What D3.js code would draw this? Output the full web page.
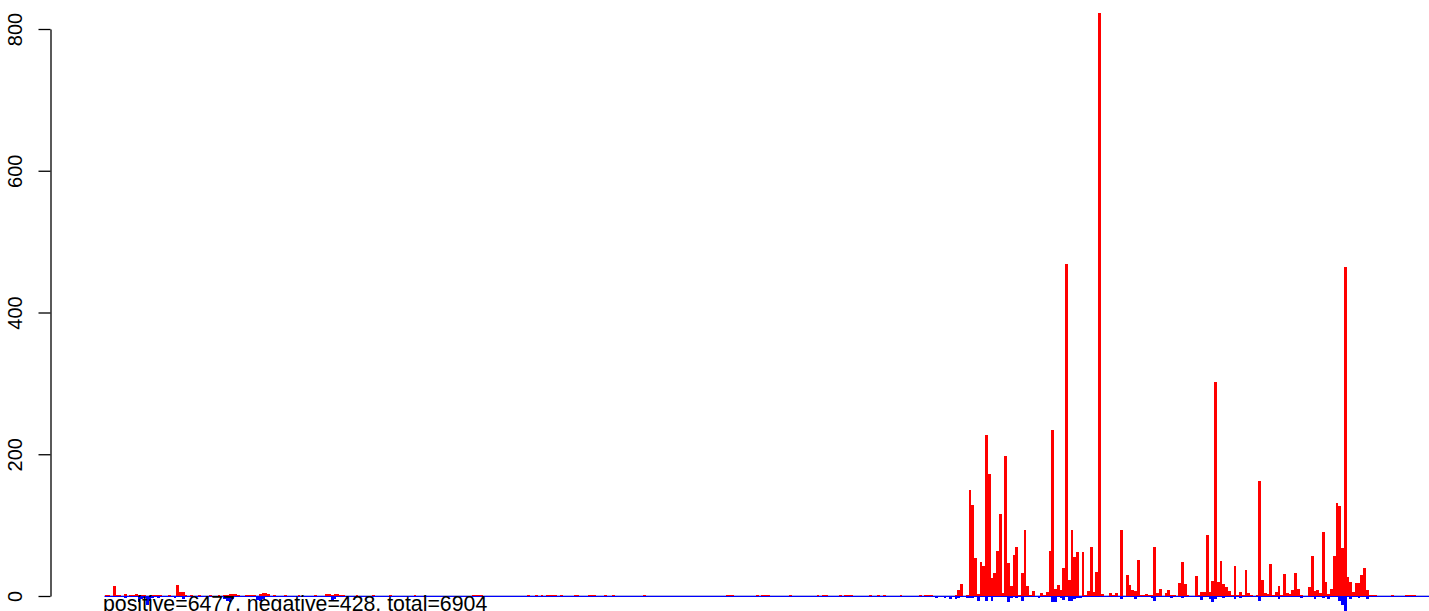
<!DOCTYPE html>
<meta charset="utf-8">
<script src="https://cdn.jsdelivr.net/npm/d3@7/dist/d3.min.js"></script>
<style>
    body { margin: 0; background: #fff; }
    svg text { font-family: "Liberation Sans", Arial, sans-serif; }
</style>
<svg id="bars" width="1429" height="611"></svg>
<script>
    // counts per bin (480 bins)
    var positive = [
        1,1,0,14,1,1,0,3,0,1,1,3,1,1,1,0,0,1,2,1,
        1,0,0,1,0,0,15,6,5,2,0,1,0,0,1,0,0,0,1,0,
        0,1,0,1,2,3,3,3,2,0,0,1,1,1,1,0,3,4,4,3,
        0,1,0,0,0,1,0,0,0,0,1,0,0,0,0,0,1,0,0,0,
        3,3,2,3,3,2,1,0,0,0,0,1,0,0,0,0,0,1,0,0,
        0,0,0,1,0,0,0,0,0,0,0,0,1,0,0,0,0,0,0,0,
        0,0,0,0,0,0,0,0,0,0,0,0,0,1,1,1,1,0,0,0,
        0,0,0,0,0,0,0,0,0,0,0,0,0,1,0,0,1,0,1,0,
        1,1,1,1,0,1,0,0,0,0,1,1,0,0,0,1,1,1,0,0,
        0,1,0,0,1,0,0,0,0,0,0,0,0,0,0,1,0,0,0,0,
        0,0,0,0,0,0,0,0,0,0,0,0,0,0,0,0,0,0,0,0,
        0,0,0,0,0,1,1,1,0,0,0,0,0,0,0,0,1,0,1,1,
        1,0,0,0,0,0,0,0,1,0,0,0,0,0,0,0,0,0,1,0,
        1,1,0,0,0,0,1,0,1,1,1,0,0,0,0,0,0,1,0,0,
        1,0,1,0,0,0,0,0,1,0,0,0,0,0,0,1,0,1,1,1,
        0,0,0,0,0,0,0,0,1,8,17,0,1,150,128,54,3,48,42,227,
        172,25,32,63,116,4,197,46,14,58,69,1,32,93,14,1,7,0,0,4,
        1,6,64,234,10,16,9,40,469,23,93,55,62,0,62,1,7,69,6,34,
        823,3,0,0,4,1,4,0,93,0,30,15,9,7,51,1,1,3,1,1,
        69,4,10,0,4,8,1,1,0,18,48,17,1,0,0,28,1,6,5,86,
        5,21,302,20,49,17,13,7,2,42,2,6,1,37,4,1,0,1,162,23,
        4,3,45,1,6,14,1,31,4,3,8,32,10,1,0,0,13,56,7,8,
        4,90,20,3,10,56,131,127,68,464,27,20,6,18,19,30,39,8,1,1,
        1,0,0,0,0,0,1,0,0,0,0,1,1,1,1,0,0,0,0,0
    ];

    var negative = [
        0,0,0,0,0,0,0,-2,0,0,0,0,-7,-3,-2,-11,-5,-2,0,-2,
        0,0,0,0,0,-2,0,0,-3,0,0,0,0,0,0,0,0,0,0,0,
        0,0,0,-3,-5,-7,-3,0,0,0,0,0,0,0,0,-4,-5,-3,0,0,
        0,0,0,0,0,0,0,0,0,0,0,0,0,0,0,0,0,0,0,0,
        0,0,-4,-3,0,0,0,0,0,0,0,0,0,0,0,0,0,0,0,0,
        0,0,0,0,0,0,0,0,0,0,0,0,0,0,0,0,0,0,0,0,
        0,0,0,0,0,0,0,0,0,0,0,0,0,0,0,0,0,0,0,0,
        0,0,0,0,0,0,0,0,0,0,0,0,0,0,0,0,0,0,0,0,
        0,0,0,0,0,0,0,0,0,0,0,0,0,0,0,0,0,0,0,0,
        0,0,0,0,0,0,0,0,0,0,0,0,0,0,0,0,0,0,0,0,
        0,0,0,0,0,0,0,0,0,0,0,0,0,0,0,0,0,0,0,0,
        0,0,0,0,0,0,0,0,0,0,0,0,0,0,0,0,0,0,0,0,
        0,0,0,0,0,0,0,0,0,0,0,0,0,0,0,0,0,0,0,0,
        0,0,0,0,0,0,0,0,0,0,0,0,0,0,0,0,0,0,0,0,
        0,0,0,0,0,0,0,0,0,0,0,0,0,0,0,0,0,0,0,0,
        0,-2,0,0,-2,0,-3,0,-3,-2,0,0,-2,-2,-2,0,-5,0,0,-5,
        0,-5,0,0,0,0,0,-7,-2,0,-2,0,-5,0,0,0,0,0,-2,0,
        0,0,0,-7,-7,0,-2,-4,0,-5,-5,-3,-2,-2,0,0,0,0,0,0,
        0,0,0,0,0,0,0,0,-3,0,0,0,0,-3,0,0,0,0,0,-2,
        -5,0,0,0,0,0,-2,0,0,0,-2,0,0,0,0,0,0,-4,0,0,
        -3,-7,-3,0,0,-2,0,0,0,-3,0,-2,0,0,0,0,0,0,-5,0,
        0,0,0,0,0,-3,0,0,0,0,0,0,0,-2,0,0,0,0,-3,0,
        0,-2,0,-3,0,0,0,-5,-11,-21,0,-3,0,0,-2,0,0,-3,0,0,
        0,0,0,0,0,0,0,0,0,0,0,0,0,0,0,0,0,0,0,0
    ];

    var yTicks = [0, 200, 400, 600, 800];
    var caption = "positive=6477, negative=428, total=6904";

    var svg = d3.select("#bars");

    var bins = d3.range(positive.length);
    var x = d3.scaleBand()
        .domain(bins)
        .range([104.5, 1429.5])
        .padding(0);
    var y = d3.scaleLinear()
        .domain([0, 800])
        .range([596, 29]);

    // faint zero row under the bars
    svg.append("rect")
        .attr("x", x.range()[0])
        .attr("y", y(0) - 1)
        .attr("width", x.range()[1] - x.range()[0])
        .attr("height", 1)
        .attr("fill", "#b0b4e4");

    svg.append("g")
        .attr("shape-rendering", "crispEdges")
        .selectAll("rect")
        .data(bins.filter(function(i) { return positive[i] > 0; }))
        .enter().append("rect")
        .attr("x", function(i) { return x(i); })
        .attr("width", x.bandwidth())
        .attr("y", function(i) { return y(positive[i]); })
        .attr("height", function(i) { return Math.max(1, y(0) - y(positive[i])); })
        .attr("fill", "#ff0000");

    svg.append("rect")
        .attr("x", x.range()[0])
        .attr("y", y(0))
        .attr("width", x.range()[1] - x.range()[0])
        .attr("height", 1)
        .attr("fill", "#0000ff");

    svg.append("g")
        .attr("shape-rendering", "crispEdges")
        .selectAll("rect")
        .data(bins.filter(function(i) { return negative[i] < 0; }))
        .enter().append("rect")
        .attr("x", function(i) { return x(i); })
        .attr("width", x.bandwidth())
        .attr("y", y(0))
        .attr("height", function(i) { return y(negative[i]) - y(0) + 1; })
        .attr("fill", "#0000ff");

    // left axis, R style: rotated labels
    var axis = svg.append("g")
        .attr("transform", "translate(50.5,0)")
        .call(d3.axisLeft(y).tickValues(yTicks).tickSize(12).tickSizeOuter(0));
    axis.select(".domain").attr("stroke", "#000").attr("stroke-width", 1.3);
    axis.selectAll(".tick line").attr("stroke", "#000").attr("stroke-width", 1.3);
    axis.selectAll(".tick text")
        .attr("x", null)
        .attr("dy", null)
        .attr("fill", "#000")
        .attr("font-size", 20)
        .attr("font-family", "Liberation Sans, Arial, sans-serif")
        .attr("text-anchor", "middle")
        .attr("transform", "translate(-28.5,0) rotate(-90)");

    svg.append("text")
        .attr("x", 103)
        .attr("y", 610.5)
        .attr("font-size", 21.3)
        .attr("fill", "#000")
        .text(caption);
</script>
